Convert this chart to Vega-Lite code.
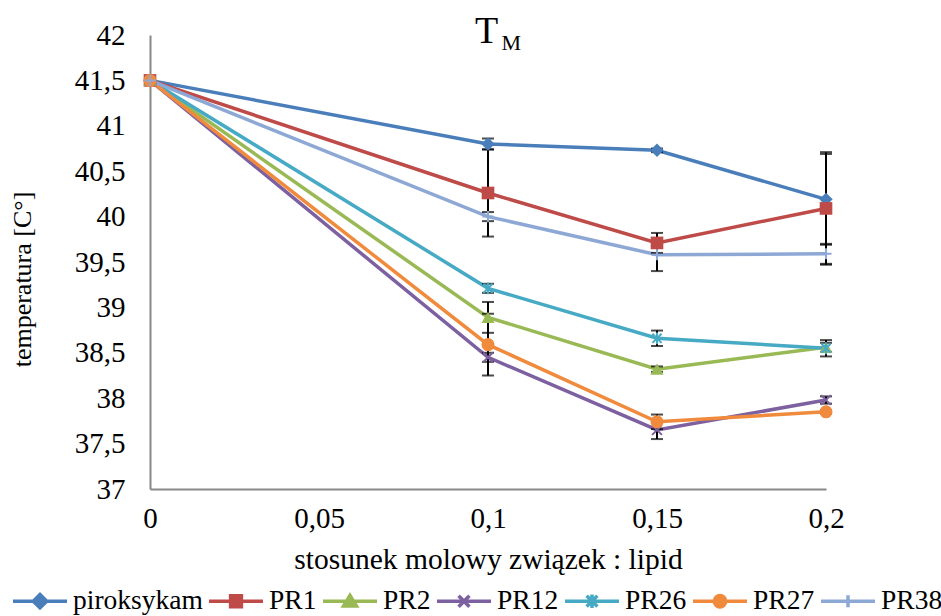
{
  "$schema": "https://vega.github.io/schema/vega-lite/v6.json",
  "width": 676,
  "height": 454,
  "autosize": "none",
  "padding": {"left": 150, "top": 35, "right": 115, "bottom": 127},
  "background": "white",
  "title": {
    "text": "T",
    "subtitle": "\u200b\u2003\u2009M",
    "anchor": "middle",
    "align": "left",
    "dx": -13,
    "offset": -33,
    "subtitlePadding": -18
  },
  "data": {
    "values": [
      {"series": "piroksykam", "x": 0, "y": 41.5},
      {"series": "piroksykam", "x": 0.1, "y": 40.8, "err": 0.06},
      {"series": "piroksykam", "x": 0.15, "y": 40.73, "err": 0.02},
      {"series": "piroksykam", "x": 0.2, "y": 40.19, "err": 0.5},
      {"series": "PR1", "x": 0, "y": 41.5},
      {"series": "PR1", "x": 0.1, "y": 40.26, "err": 0.48},
      {"series": "PR1", "x": 0.15, "y": 39.71, "err": 0.11},
      {"series": "PR1", "x": 0.2, "y": 40.09, "err": 0.62},
      {"series": "PR2", "x": 0, "y": 41.5},
      {"series": "PR2", "x": 0.1, "y": 38.89, "err": 0.17},
      {"series": "PR2", "x": 0.15, "y": 38.32, "err": 0.03},
      {"series": "PR2", "x": 0.2, "y": 38.56, "err": 0.05},
      {"series": "PR12", "x": 0, "y": 41.5},
      {"series": "PR12", "x": 0.1, "y": 38.45, "err": 0.05},
      {"series": "PR12", "x": 0.15, "y": 37.65, "err": 0.1},
      {"series": "PR12", "x": 0.2, "y": 37.98, "err": 0.04},
      {"series": "PR26", "x": 0, "y": 41.5},
      {"series": "PR26", "x": 0.1, "y": 39.21, "err": 0.05},
      {"series": "PR26", "x": 0.15, "y": 38.66, "err": 0.085},
      {"series": "PR26", "x": 0.2, "y": 38.55, "err": 0.09},
      {"series": "PR27", "x": 0, "y": 41.5},
      {"series": "PR27", "x": 0.1, "y": 38.59, "err": 0.34},
      {"series": "PR27", "x": 0.15, "y": 37.74, "err": 0.08},
      {"series": "PR27", "x": 0.2, "y": 37.85, "err": 0.02},
      {"series": "PR38", "x": 0, "y": 41.5},
      {"series": "PR38", "x": 0.1, "y": 40.0, "err": 0.05},
      {"series": "PR38", "x": 0.15, "y": 39.58, "err": 0.18},
      {"series": "PR38", "x": 0.2, "y": 39.59, "err": 0.11}
    ]
  },
  "encoding": {
    "x": {
      "field": "x",
      "type": "quantitative",
      "scale": {"domain": [0, 0.2], "nice": false, "zero": false},
      "axis": {
        "title": "stosunek molowy związek : lipid",
        "values": [0, 0.05, 0.1, 0.15, 0.2],
        "labelExpr": "replace(format(datum.value, '~g'), '.', ',')",
        "labelPadding": 15,
        "labelFlush": false,
        "titleX": 338,
        "titleY": 79,
        "titleBaseline": "alphabetic",
        "titleAnchor": "middle",
        "titleAlign": "center",
        "titleFontSize": 29.5
      }
    },
    "y": {
      "field": "y",
      "type": "quantitative",
      "scale": {"domain": [37, 42], "nice": false, "zero": false},
      "axis": {
        "title": "temperatura [C°]",
        "values": [37, 37.5, 38, 38.5, 39, 39.5, 40, 40.5, 41, 41.5, 42],
        "labelExpr": "replace(format(datum.value, '~g'), '.', ',')",
        "labelPadding": 25,
        "labelFlush": false,
        "labelBaseline": "middle",
        "titleAngle": -90,
        "titleX": -128,
        "titleY": 244,
        "titleAlign": "center",
        "titleBaseline": "middle",
        "titleFontSize": 26
      }
    },
    "color": {
      "field": "series",
      "type": "nominal",
      "sort": null,
      "scale": {
        "domain": ["piroksykam", "PR1", "PR2", "PR12", "PR26", "PR27", "PR38"],
        "range": ["#4A7EBB", "#BE4B48", "#98B954", "#7D60A0", "#46AAC5", "#F08A3C", "#8EA8D6"]
      },
      "legend": {
        "orient": "none",
        "legendX": -139,
        "legendY": 537,
        "direction": "horizontal",
        "title": null,
        "padding": 0,
        "labelOffset": 4,
        "columnPadding": -1,
        "symbolSize": 2916,
        "symbolStrokeWidth": 3.5,
        "labelFontSize": 27.5,
        "labelColor": "black",
        "labelFont": "Liberation Serif",
        "encode": {
          "symbols": {
            "update": {
              "shape": {"signal": "datum.value === 'piroksykam' ? 'M-1,0H1M0,-0.25L0.25,0L0,0.25L-0.25,0Z' : datum.value === 'PR1' ? 'M-1,0H1M-0.2,-0.2H0.2V0.2H-0.2Z' : datum.value === 'PR2' ? 'M-1,0H1M0,-0.22L0.24,0.18H-0.24Z' : datum.value === 'PR12' ? 'M-1,0H1M-0.2,-0.2L0.2,0.2M-0.2,0.2L0.2,-0.2' : datum.value === 'PR26' ? 'M-1,0H1M-0.2,-0.2L0.2,0.2M-0.2,0.2L0.2,-0.2M0,-0.25V0.25' : datum.value === 'PR27' ? 'M-1,0H1M0.21,0A0.21,0.21,0,1,1,-0.21,0A0.21,0.21,0,1,1,0.21,0Z' : 'M-1,0H1M0,-0.22V0.22'"},
              "fill": {"signal": "scale('color', datum.value)"},
              "stroke": {"signal": "scale('color', datum.value)"},
              "opacity": {"value": 1}
            }
          }
        }
      }
    }
  },
  "layer": [
    {
      "mark": {"type": "line", "strokeWidth": 3.5}
    },
    {
      "transform": [{"filter": "datum.err != null"}],
      "mark": {
        "type": "errorbar",
        "color": "black",
        "thickness": 2,
        "ticks": {"size": 12, "color": "black", "strokeWidth": 2}
      },
      "encoding": {
        "yError": {"field": "err"},
        "color": {"value": "black"}
      }
    },
    {
      "transform": [{"filter": "datum.series === 'piroksykam'"}],
      "mark": {"type": "point", "shape": "diamond", "size": 180, "filled": true, "opacity": 1}
    },
    {
      "transform": [{"filter": "datum.series === 'PR1'"}],
      "mark": {"type": "point", "shape": "square", "size": 160, "filled": true, "opacity": 1}
    },
    {
      "transform": [{"filter": "datum.series === 'PR2'"}],
      "mark": {"type": "point", "shape": "triangle-up", "size": 170, "filled": true, "opacity": 1}
    },
    {
      "transform": [{"filter": "datum.series === 'PR12'"}],
      "mark": {"type": "point", "shape": "M-0.75,-0.75L0.75,0.75M-0.75,0.75L0.75,-0.75", "size": 170, "filled": false, "strokeWidth": 2, "opacity": 1}
    },
    {
      "transform": [{"filter": "datum.series === 'PR26'"}],
      "mark": {"type": "point", "shape": "M-0.7,-0.7L0.7,0.7M-0.7,0.7L0.7,-0.7M0,-0.9V0.9", "size": 170, "filled": false, "strokeWidth": 2, "opacity": 1}
    },
    {
      "transform": [{"filter": "datum.series === 'PR27'"}],
      "mark": {"type": "point", "shape": "circle", "size": 170, "filled": true, "opacity": 1}
    },
    {
      "transform": [{"filter": "datum.series === 'PR38'"}],
      "mark": {"type": "point", "shape": "M-0.85,0H0.85M0,-0.85V0.85", "size": 170, "filled": false, "strokeWidth": 2, "opacity": 1}
    }
  ],
  "config": {
    "view": {"stroke": null},
    "font": "Liberation Serif",
    "axis": {
      "grid": false,
      "ticks": false,
      "domainColor": "#888888",
      "domainWidth": 2,
      "labelFont": "Liberation Serif",
      "labelFontSize": 29,
      "labelColor": "black",
      "titleFont": "Liberation Serif",
      "titleFontWeight": "normal",
      "titleColor": "black"
    },
    "title": {
      "font": "Liberation Serif",
      "fontSize": 38,
      "fontWeight": "normal",
      "color": "black",
      "subtitleFont": "Liberation Serif",
      "subtitleFontSize": 22,
      "subtitleColor": "black"
    }
  }
}
